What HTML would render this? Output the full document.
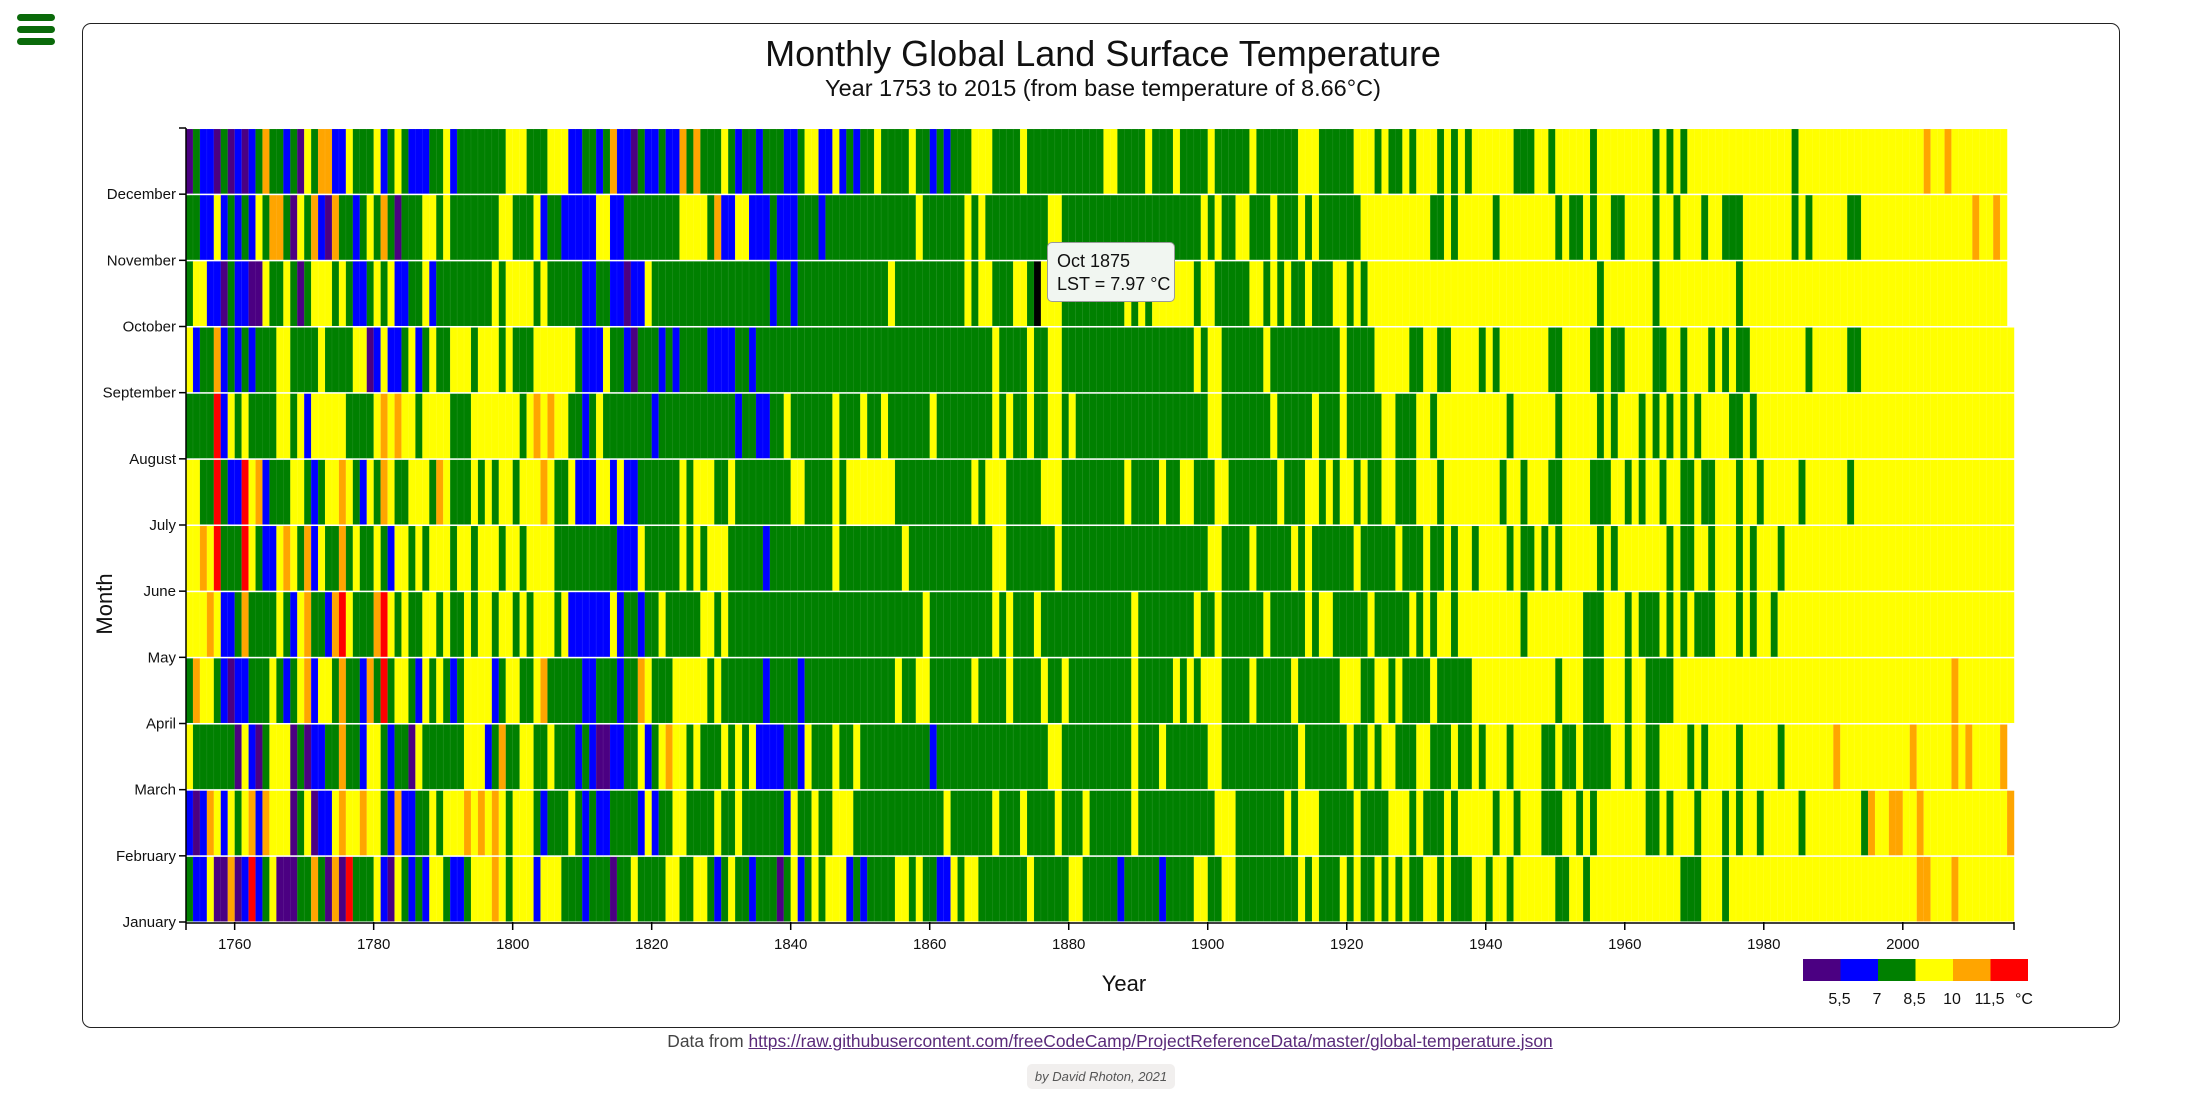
<!DOCTYPE html>
<html><head><meta charset="utf-8">
<style>
html,body{margin:0;padding:0;background:#fff;width:2201px;height:1101px;overflow:hidden;font-family:"Liberation Sans",sans-serif;}
#menu{position:absolute;left:17px;top:14px;width:38px;height:32px;}
#menu div{position:absolute;left:0;width:38px;height:7px;border-radius:4px;background:#0a6a0a;}
#card{position:absolute;left:82px;top:23px;width:2036px;height:1003px;border:1.5px solid #222;border-radius:9px;}
#foot{position:absolute;left:0;width:2220px;top:1031px;text-align:center;font-size:17.4px;color:#444;}
#foot span.l{color:#5a2a7a;text-decoration:underline;}
#by{position:absolute;left:1027px;top:1064px;width:148px;height:25px;background:#f1efee;border-radius:5px;font-style:italic;font-size:13px;color:#555;text-align:center;line-height:25px;}
#tip{position:absolute;left:1047px;top:242px;width:128px;height:60px;background:#f1f6f1;border:1px solid #9a9a9a;border-radius:5px;font-size:18px;color:#111;box-sizing:border-box;padding:7px 0 0 9px;line-height:23px;}
</style></head><body>
<div id="menu"><div style="top:0"></div><div style="top:12px"></div><div style="top:24px"></div></div>
<div id="card"></div>
<svg id="chart" width="2201" height="1101" style="position:absolute;left:0;top:0">
<text x="1103" y="66" text-anchor="middle" font-size="36" fill="#111">Monthly Global Land Surface Temperature</text>
<text x="1103" y="96" text-anchor="middle" font-size="23.5" fill="#111">Year 1753 to 2015 (from base temperature of 8.66°C)</text>
<g id="cells"></g>
<g id="axes"></g>
<text transform="translate(112,604) rotate(-90)" text-anchor="middle" font-size="22" fill="#111">Month</text>
<text x="1124" y="991" text-anchor="middle" font-size="22" fill="#111">Year</text>
<g id="legend"></g>
</svg>
<div id="tip">Oct 1875<br>LST = 7.97 °C</div>
<div id="foot">Data from <span class="l">https://raw.githubusercontent.com/freeCodeCamp/ProjectReferenceData/master/global-temperature.json</span></div>
<div id="by">by David Rhoton, 2021</div>
<script>
// Temperature class codes per month, 1753 onward (P<5.5, B<7, G<8.5, Y<10, O<11.5, R>=11.5)
const monthNames = ["January","February","March","April","May","June","July","August","September","October","November","December"];
const codeTemps = {P:4.9,B:6.3,G:7.8,Y:9.2,O:10.7,R:12.1,K:7.97};
const legendTicks = [5.5,7,8.5,10,11.5];
const legendLabels = ["5,5","7","8,5","10","11,5"];
const xTicks = [1760,1780,1800,1820,1840,1860,1880,1900,1920,1940,1960,1980,2000];
const startYear = 1753;
const hoverYear = 1875, hoverMonth = 10;
const mJan = "GBBYPPOPBRBGYPPPGGOGPOPRGGGYBPYGBGBYYGBBGYYY"+"OYGYYYBYYYGGGBGGGPGGYGGGGYYGGYYGBGYGGBGGGPGY"+"BGYGYYYBGBGGGGYYGYGGBBYGYYGGGGGGGYGGGGGYYGGG"+"GGBGGGGGBGGGGYYGGYYGGGGGGGGGYGYGGGYGYGGYGYGY"+"GGYYGYGGGYYGYYGYYYYYYGGYYGYYYYYYYYYYYYYGGGYY"+"YGYYYYYYYYYYYYYYYYYYYYYYYYYYYOOYYYOYYYYYYYY";
const mFeb = "BPBOYBYGYOBOYYYPGYPBBYOYYOYYGBOBBGGYGYYYOYOY"+"OYGYYYGBGGGYGBGBBGGGGBYBGGYYGGGGYGGYGGGGGGBY"+"GGYGGYYYGGGGGGGGGGGGGYGGGGGGYGGGYGGGGYGGGYGG"+"GGGGYGGGGGGGGGGGYYYGGGGGGGYGYYYGGGGGYGGGGYYY"+"GYGGGYGYYYYYGYYGYYYGGGYYGYGYYYYYYYGGYGYYYGYY"+"YGYGYYGYYYYYGYYYYYYYYGOYYOOYYOYYYYYYYYYYYYO";
const mMar = "YGGGGGGPYBPGYYYPGPBBGGOGGBYYGBGGPYGGGGGGYYYB"+"GOGGYYGGYGGGBGBPPBBGGYBGYOYYGYGGGYGYGYBBBBGG"+"BYGGGYGGYGGGGGGGGGGBGGGGGGGGGGGGGGGGYYGGGGGG"+"GGGGYGGGYGGGGGGYYGGGGGGGGGGGYGGGGGGYGGYGYYGG"+"GYYGGGYGGYGYYYGYYYYGGYGGYGGGGYYGYYGGYYYYGYGY"+"YYYGYYYYYGYYYYYYYOYYYYYYYYYYOYYYYYOYOYYYYO";
const mApr = "GOYYGBPBBGGGYGBGYOBYYGOGGBOGRGYYGBYGYGBGYYYY"+"BGYYGGYOGGGGGBBGGGBGGOYGGGYYYYYGYGGGGGGBGGGG"+"BGGGGGGGGGGGGGYGGYYGGGGGGYGGGGYGGGGYGGYGGGGG"+"GGGGYGGGGGYGYGYYYGGGGYGGGGGYGGGGGGYYYGGYYGYG"+"GGGYGGGGGYYYYYYYYYYYYGYYYGGGYYYGYYGGGGYYYYYY"+"YYYYYYYYYYYYYYYYYYYYYYYYYYYYYYYYYYOYYYYYYYY";
const mMay = "YYYOYBBGOGGGGYGBYOGGBORYGGGORYGYGGYYGYGGYGYY"+"GYYGYGYYYGYBBBBBBYBGGBGGYGGGGGYYGYGGGGGGGGGG"+"GGGGGGGGGGGGGGGGGGYGGGGGGGGGYGYGGGYGGGGGGGGG"+"GGGGYGGGGGGGGYGGYGGGGGGYGGGGGYGYYGGGGGYGGGGG"+"YGYGYYGYYYYYYYYYGYYYYYYYYGGGYYYGYGGGYGYGYGGG"+"YYYGYGYYGYYYYYYYYYYYYYYYYYYYYYYYYYYYYYYYYYY";
const mJun = "YYOYRGGGRYGBBYOYGOBYGGOGYGGYGBYYGYGYYYGYYGYY"+"YGYYGYYYYGGGGGGGGGBBBYGGGGGYGYGYYYGGGGGBGGGG"+"GGGGGYGGGGGGGGGYGGGGGGGGGGGGYYGGGGGGGYGGGGGG"+"GGGGGGGGGGGGGGGYYGGGGYGGGGGYGYGGGGGGYGGGGGYG"+"GGYGGYGYYGYYYYGYGGYGYGYYYYYGYGYYYYYYYGYGGYYG"+"YYYGYGYYYGYYYYYYYYYYYYYYYYYYYYYYYYYYYYYYYYY";
const mJul = "YYGGRGBBRYOBGGGYYGBGYYOYGBYGOYGGYYYGOYGGGYGY"+"GYYGYYYOYGGYBBBYYBYBBGGGGGGYGYYYGGYGGGGGGGGY"+"YGGGGYGYYYYYYYGGGGGGGGGGGYGYYYGGGGGYYYGGGGGG"+"GGGYGGGGYGGYYGGGYYGGGGGGGYGGGYYGYGYYGYGGYYGG"+"GYYYGYYYYYYYYGYYGYYYGGYYYYGGGYYGYGYYGYYGGYGG"+"YYYGYYGYYYYYGYYYYYYGYYYYYYYYYYYYYYYYYYYYYYY";
const mAug = "GGGGRBYGYGGGGYYGYBYYYYYGGGGYOYOYYGYYYYGGGYYY"+"YYYYGYOYOYYGGBGYGGGGGGGBGGGGGGGGGGGBGGBBGGYG"+"GGGGGYGGGYGGYGGGGGGYGGGGGGGGYGYGGYGGYYGYGGGG"+"GGGGGGGGGGGGGGGYYGGGGGGGYGGGGGYGGGYGGGGGYYGG"+"GYYGYYYYYYYYYYGYYYYYYGYYYYYGYGYYYGYGYGYGYGYY"+"YYGGYGYYYYYYYYYYYYYYYYYYYYYYYYYYYYYYYYYYYYY";
const mSep = "YBGGOBGBGBGGGYYGGGGYGGGGYYPBYBBGYBGYGGYYYGYY"+"YGYGGGYYYYYYGBBBYGGBPGGGBGBGGGGBBBBGGBGGGGGG"+"GGGGGGGGGGGGGGGGGGGGGGGGGGGGYGGGGYGGYYGGGGGG"+"GGGGGGGGGGGGGYGYYGGGGGGYGGGGGGGGGGYGGGGYYYYY"+"GGYYGGYYYYGYGYYYYYYYGGYYYYGGYGGYYYYGGYYGYYYG"+"YGYGGYYYYYYYYGYYYYYGGYYYYYYYYYYYYYYYYYYYYYY";
const mOct = "GYYBBPGBBPPYGGYGPGYYYGYGBBGYGYBBGGYBGGGGGGGG"+"YGYYYYGYGGGGGBBGGBBPBBYGGGGGGGGGGGGGGGGGBGGB"+"GGGGGGGGGGGGGYGGGGGGGGGGYGYYGGGYYGKYYYGGGGGG"+"GGGYGYGYYYYYYGYYGGGGGYYGYGYGGYGGGYYGYGYYYYYY"+"YYYYYYYYYYYYYYYYYYYYYYYYYYYGYYYYYYYGYYYYYYYY"+"YYYGYYYYYYYYYYYYYYYYYYYYYYYYYYYYYYYYYYYYYY";
const mNov = "GGBBYBGBGBYGOOGPYGOBPOGGBGYGOGPGGGYYGYGGGGGG"+"GYYGGGYBGGBBBBBYYBBGGGGGGGGYYYYGOBBYYBBBGBBB"+"GGGBGGGGGGGGGGGGGYGGGGGGYGYGGGGGGGGGYYGGGGGG"+"GGGGGGGGGGGGGGYGYGGYYGGGYGGGYGYGGGGGGYYYYYYY"+"YYYGGYGYYYYYGYYYYYYYYGYGGYGYYGGYYYYGYYGYYYGY"+"YGGGYYYYYYYGYGYYYYYGGYYYYYYYYYYYYYYYYOYYOY";
const mDec = "PGBBPGPBPBGOGGBGPYGOOBBYGGGYBGYGBBBGGYBGGGGG"+"GGYYYGGGYYYBBGGBGOBBPGBBGBBOGOGGGYGBGGBGGGBB"+"GYYBBYBGBGGYGGGGYGGBGBGGGYYYGGGGYGGGGGGGGGGG"+"YYGGGGYGGGYGGGGYGGGGGYGGGGGGYYYGGGGGYYYGYGGY"+"GYYYGYGYGYYYYYYGGGYYGYYYYYGYYYYYYYYGYGYGYYYY"+"YYYYYYYYYYYGYYYYYYYYYYYYYYYYYYOYYOYYYYYYYY";
const monthSeries = [mJan,mFeb,mMar,mApr,mMay,mJun,mJul,mAug,mSep,mOct,mNov,mDec];

const NS="http://www.w3.org/2000/svg";
const X0=186, X1=2014, Y0=128, Y1=922, nYears=263;
const colW=(X1-X0)/nYears, rowH=(Y1-Y0)/12;
const xScale = yr => X0 + (yr-startYear)*colW;
const yScale = m => Y0 + (12-m)*rowH;
const colors=["#4b0082","#0000ff","#008000","#ffff00","#ffa500","#ff0000"];
function colorOf(t){let i=0;while(i<legendTicks.length&&t>=legendTicks[i])i++;return colors[i];}
function mk(tag,attrs,parent){const e=document.createElementNS(NS,tag);for(const k in attrs)e.setAttribute(k,attrs[k]);parent.appendChild(e);return e;}

const cells=document.getElementById('cells');
monthSeries.forEach((s,mi)=>{
  const m=mi+1;
  for(let i=0;i<s.length;i++){
    const yr=startYear+i, t=codeTemps[s[i]];
    const hov=(yr===hoverYear&&m===hoverMonth);
    const r=mk('rect',{x:xScale(yr),y:yScale(m)+1,width:colW+0.25,height:rowH-1.5,fill:hov?'#000':colorOf(t),stroke:'rgba(255,255,255,0.12)','stroke-width':0.5},cells);
    
    
  }
});

const ax=document.getElementById('axes');
const yAxis=mk('g',{},ax);


mk('line',{x1:X0,y1:Y0,x2:X0,y2:Y1,stroke:'#000','stroke-width':1.5},yAxis);
mk('line',{x1:X0-7,y1:Y0,x2:X0,y2:Y0,stroke:'#000','stroke-width':1.5},yAxis);
monthNames.forEach((n,mi)=>{
  const y=yScale(mi+1)+rowH;
  mk('line',{x1:X0-7,y1:y,x2:X0,y2:y,stroke:'#000','stroke-width':1.5},yAxis);
  const t=mk('text',{x:X0-10,y:y+5,'text-anchor':'end','font-size':15,fill:'#111'},yAxis);
  t.textContent=n;
  
  
});
const xAxis=mk('g',{},ax);


mk('line',{x1:X0,y1:Y1+1,x2:X1,y2:Y1+1,stroke:'#000','stroke-width':1.5},xAxis);
mk('line',{x1:X0,y1:Y1,x2:X0,y2:Y1+8,stroke:'#000','stroke-width':1.5},xAxis);
mk('line',{x1:X1,y1:Y1,x2:X1,y2:Y1+8,stroke:'#000','stroke-width':1.5},xAxis);
xTicks.forEach(yr=>{
  const x=xScale(yr);
  mk('line',{x1:x,y1:Y1,x2:x,y2:Y1+8,stroke:'#000','stroke-width':1.5},xAxis);
  const t=mk('text',{x:x,y:Y1+27,'text-anchor':'middle','font-size':15,fill:'#111'},xAxis);
  t.textContent=yr;
  
  
});

const lg=document.getElementById('legend');
const LX=1803, LW=37.5, LY=959, LH=22;
colors.forEach((c,i)=>{
  const r=mk('rect',{x:LX+i*LW,y:LY,width:LW,height:LH,fill:c},lg);
  
  
});
legendLabels.forEach((l,i)=>{
  const t=mk('text',{x:LX+(i+1)*LW-1,y:LY+45,'text-anchor':'middle','font-size':16,fill:'#111'},lg);
  t.textContent=l;
  
  
});
const u=mk('text',{x:2024,y:LY+45,'text-anchor':'middle','font-size':16,fill:'#111'},lg);
u.textContent='°C';


</script>
</body></html>
